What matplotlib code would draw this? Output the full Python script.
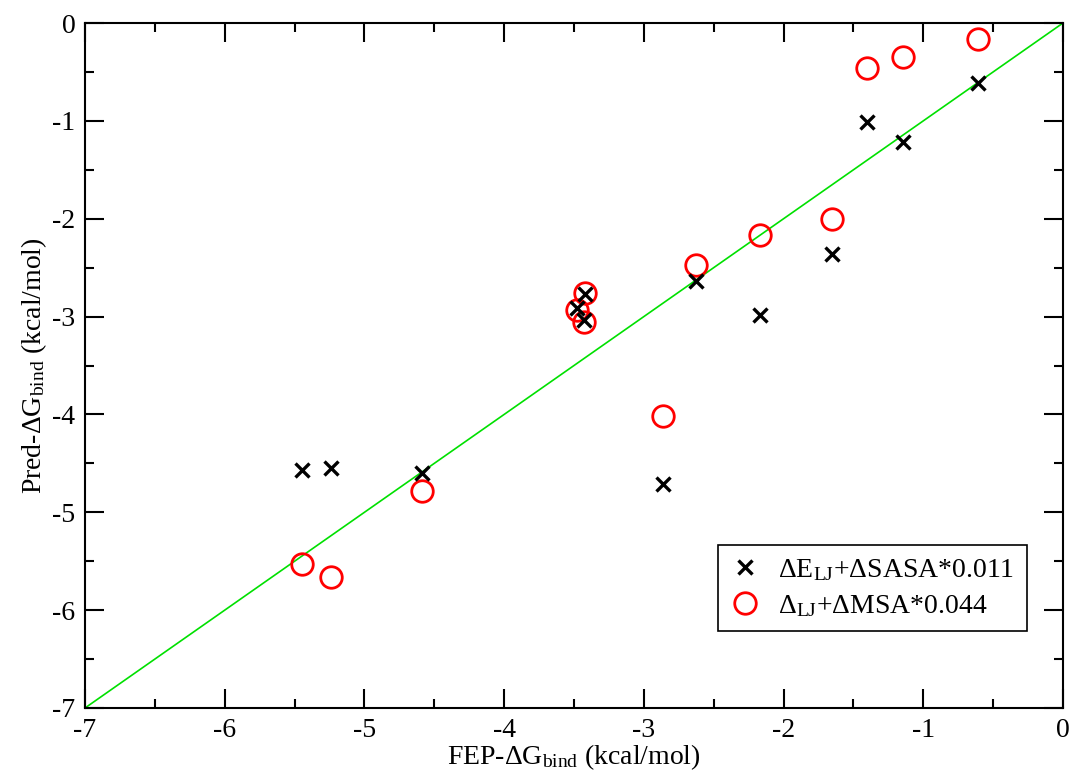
import matplotlib
matplotlib.use('Agg')
import matplotlib.pyplot as plt
import numpy as np

plt.rcParams['font.family'] = ['Liberation Serif', 'DejaVu Serif']
plt.rcParams['mathtext.fontset'] = 'custom'
plt.rcParams['mathtext.rm'] = 'Liberation Serif'
plt.rcParams['mathtext.it'] = 'Liberation Serif:italic'
plt.rcParams['axes.unicode_minus'] = False

# FEP reference values (x) and the two predictions (y)
fep = [-5.45, -5.24, -4.59, -3.48, -3.43, -3.42, -2.86, -2.63, -2.17, -1.65, -1.40, -1.145, -0.61]
pred_sasa = [-4.57, -4.55, -4.60, -2.91, -3.03, -2.77, -4.71, -2.64, -2.98, -2.36, -1.01, -1.22, -0.61]
pred_msa = [-5.53, -5.66, -4.78, -2.93, -3.06, -2.76, -4.02, -2.47, -2.17, -2.00, -0.46, -0.35, -0.16]

label_sasa = 'ΔE$_\\mathrm{LJ}$+ΔSASA*0.011'
label_msa = 'Δ$_\\mathrm{LJ}$+ΔMSA*0.044'

fig = plt.figure(figsize=(10.71, 7.78), dpi=100)
ax = fig.add_axes([0.0794, 0.090, 0.9131, 0.8804])

# y = x reference line
ax.plot([-7, 0], [-7, 0], color='#00e000', lw=1.2, zorder=1)

ax.plot(fep, pred_sasa, ls='none', marker='x', ms=10, mew=2.4, color='black',
        label=label_sasa, zorder=3)
ax.plot(fep, pred_msa, ls='none', marker='o', ms=15.5, mew=2, mfc='none', mec='red',
        label=label_msa, zorder=2)

ax.set_xlim(-7, 0)
ax.set_ylim(-7, 0)
ax.set_xticks(np.arange(-7, 1, 1))
ax.set_yticks(np.arange(-7, 1, 1))
ax.set_xticks(np.arange(-7, 0, 0.5), minor=True)
ax.set_yticks(np.arange(-7, 0, 0.5), minor=True)
ax.tick_params(which='both', direction='in', top=True, right=True, width=1.5,
               labelsize=20, pad=7)
ax.tick_params(which='major', length=13.5)
ax.tick_params(which='minor', length=6.5)
for s in ax.spines.values():
    s.set_linewidth(1.5)

ax.set_xlabel('FEP-ΔG$_\\mathrm{bind}$ (kcal/mol)', fontsize=20, labelpad=0)
ax.set_ylabel('Pred-ΔG$_\\mathrm{bind}$ (kcal/mol)', fontsize=20, labelpad=2)

leg = ax.legend(loc='lower right', bbox_to_anchor=(0.963, 0.112), fontsize=20,
                frameon=True, fancybox=False, edgecolor='black', framealpha=1,
                handletextpad=0.7, borderpad=0.45, labelspacing=0.35, handlelength=1.0,
                borderaxespad=0)
leg.get_frame().set_linewidth(1.2)

fig.savefig('out.png', dpi=100)
